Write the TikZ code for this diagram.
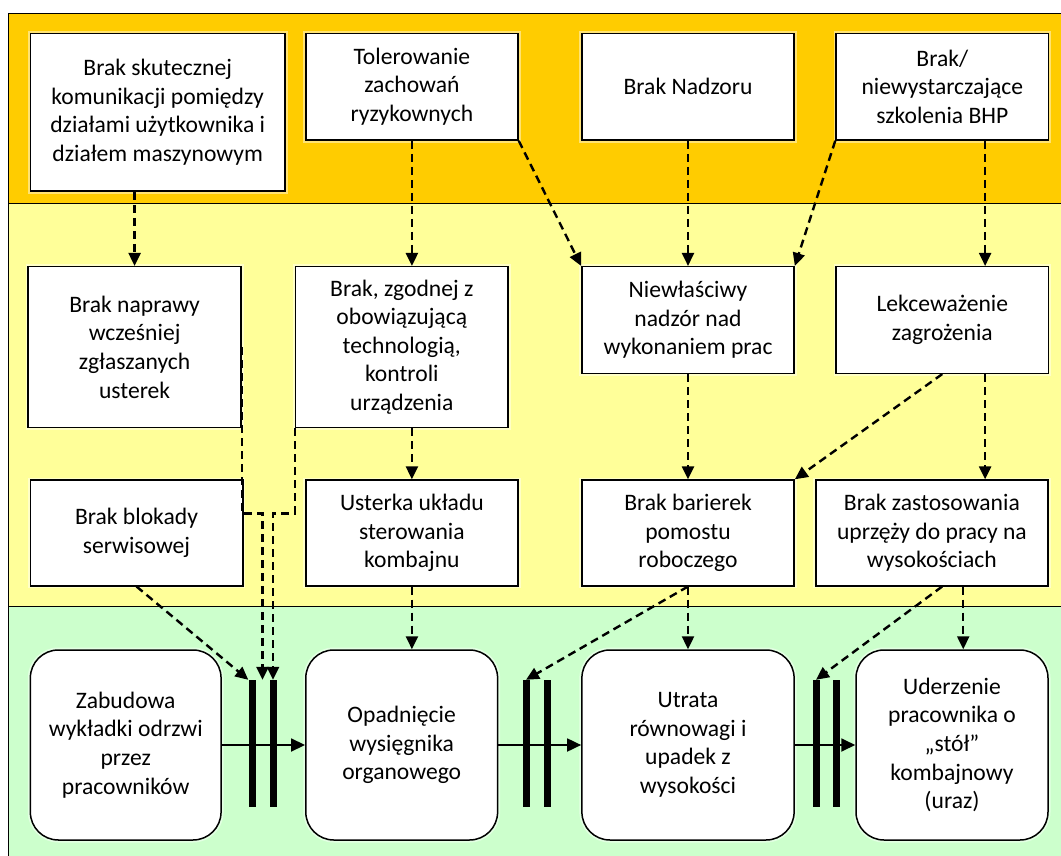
\documentclass[tikz,border=0pt]{standalone}
\usepackage{fontspec}
\setmainfont{Carlito}
\usepackage{tikz}
\usetikzlibrary{arrows.meta,calc}

\definecolor{bandorange}{RGB}{255,204,0}
\definecolor{bandyellow}{RGB}{255,255,153}
\definecolor{bandgreen}{RGB}{204,255,204}

\begin{document}
\begin{tikzpicture}[x=1pt,y=-1pt]
	\tikzset{
	box/.style 	= {draw, line width=1.5pt, fill=white, align=center, inner sep=0pt,
				   font=\fontsize{23.6}{28.6}\selectfont,
				   preaction={draw=white, line width=5pt, opacity=.45}},
	rbox/.style 	= {box, rounded corners=28pt},
	barrier/.style 	= {fill=black, inner sep=0pt, minimum width=7pt, minimum height=127pt},
	cause/.style 	= {line width=2.4pt, dash pattern=on 8pt off 5pt,
				   -{Triangle[length=13pt,width=12pt]}},
	flow/.style 	= {line width=1.8pt, -{Triangle[length=14pt,width=13pt]}}}
	
	\useasboundingbox (0,0) rectangle (1061,856);
	\clip (0,0) rectangle (1061,856);
	
	\filldraw[fill=bandorange, line width=1.5pt] (8.6,13.3) rectangle (1075,203.3);
	\filldraw[fill=bandyellow, line width=1.5pt] (8.6,203.3) rectangle (1075,606.7);
	\filldraw[fill=bandgreen, line width=1.5pt] (8.6,606.7) rectangle (1075,875);
	
	
	\node[box, minimum width=254.7pt, minimum height=157.7pt] (kom) at (157.7,112.2)
		{Brak skutecznej\\komunikacji pomiędzy\\działami użytkownika i\\działem maszynowym};
	\node[box, minimum width=212.2pt, minimum height=106.7pt] (tol) at (411.9,86.7)
		{Tolerowanie\\zachowań\\ryzykownych};
	\node[box, minimum width=212.2pt, minimum height=106.7pt] (nadz) at (688,86.7)
		{Brak Nadzoru};
	\node[box, minimum width=212.6pt, minimum height=106.7pt] (bhp) at (942.3,86.7)
		{Brak/\\niewystarczające\\szkolenia BHP};
	
	\node[box, minimum width=212.8pt, minimum height=160.6pt] (napr) at (134.6,347)
		{Brak naprawy\\wcześniej\\zgłaszanych\\usterek};
	\node[box, minimum width=212.5pt, minimum height=160.6pt] (kontr) at (401.8,347)
		{Brak, zgodnej z\\obowiązującą\\technologią,\\kontroli\\urządzenia};
	\node[box, minimum width=212.2pt, minimum height=106.6pt] (niew) at (688,320)
		{Niewłaściwy\\nadzór nad\\wykonaniem prac};
	\node[box, minimum width=212.6pt, minimum height=106.6pt] (lekc) at (942.3,320)
		{Lekceważenie\\zagrożenia};
	
	\node[box, minimum width=212.5pt, minimum height=105.7pt] (blok) at (136.5,532.9)
		{Brak blokady\\serwisowej};
	\node[box, minimum width=212.2pt, minimum height=105.7pt] (ust) at (411.9,532.9)
		{Usterka układu\\sterowania\\kombajnu};
	\node[box, minimum width=212.2pt, minimum height=105.7pt] (barier) at (688,532.9)
		{Brak barierek\\pomostu\\roboczego};
	\node[box, minimum width=232.3pt, minimum height=105.7pt] (uprz) at (931.9,532.9)
		{Brak zastosowania\\uprzęży do pracy na\\wysokościach};
	
	\node[rbox, minimum width=190.7pt, minimum height=190pt] (zab) at (125.7,745)
		{Zabudowa\\wykładki odrzwi\\przez\\pracowników};
	\node[rbox, minimum width=191.8pt, minimum height=190pt] (opad) at (401.7,745)
		{Opadnięcie\\wysięgnika\\organowego};
	\node[rbox, minimum width=212.2pt, minimum height=190pt] (utr) at (688,745)
		{Utrata\\równowagi i\\upadek z\\wysokości};
	\node[rbox, minimum width=192pt, minimum height=190pt] (uder) at (952,745)
		{Uderzenie\\pracownika o\\„stół”\\kombajnowy\\(uraz)};
	
	\draw[flow] (zab) -- (opad);
	\draw[flow] (opad) -- (utr);
	\draw[flow] (utr) -- (uder);
	
	\node[barrier] (b1) at (252,743.5) {};
	\node[barrier] (b2) at (273,743.5) {};
	\node[barrier] (b3) at (526,743.5) {};
	\node[barrier] (b4) at (547,743.5) {};
	\node[barrier] (b5) at (816,743.5) {};
	\node[barrier] (b6) at (836,743.5) {};
	
	\coordinate (jn) at ([yshift=-34pt]blok.north);
	\coordinate (mid) at ($(b1.north)!.5!(b2.north)$);
	\coordinate (lk) at ($(lekc.south west)!.7!(lekc.south east)$);
	\coordinate (up) at ($(uprz.south west)!.634!(uprz.south east)$);
	
	\draw[cause] (kom.south -| napr.north) -- (napr.north);
	\draw[cause] (tol.south) -- (tol.south |- kontr.north);
	\draw[cause] (tol.south east) -- (niew.north west);
	\draw[cause] (nadz.south) -- (niew.north);
	\draw[cause] (bhp.south west) -- (niew.north east);
	\draw[cause] ($(bhp.south west)!.7!(bhp.south east)$) -- ($(lekc.north west)!.7!(lekc.north east)$);
	
	\draw[cause] (ust.north |- kontr.south) -- (ust.north);
	\draw[cause] (niew.south) -- (barier.north);
	\draw[cause] (lekc.south) -- (barier.north east);
	\draw[cause] (lk) -- (lk |- uprz.north);
	
	\draw[cause] (napr.east) |- (mid |- jn) -- (mid);
	\draw[cause] (kontr.south west) |- (b2.north |- jn) -- (b2.north);
	\draw[cause] (blok.south) -- (b1.north west);
	\draw[cause] (ust.south) -- (ust.south |- opad.north);
	\draw[cause] (barier.south) -- (b3.north);
	\draw[cause] (barier.south) -- (barier.south |- utr.north);
	\draw[cause] ($(uprz.south west)!.544!(uprz.south east)$) -- (b5.north);
	\draw[cause] (up) -- (up |- uder.north);
	
\end{tikzpicture}
\end{document}
